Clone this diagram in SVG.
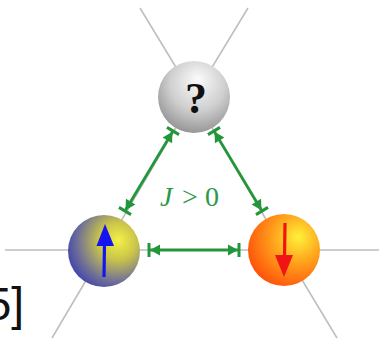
<svg xmlns="http://www.w3.org/2000/svg" width="379" height="341" viewBox="0 0 379 341">
  <style>
    .bond { stroke: #bdbdbd; stroke-width: 1.5; fill: none; }
    .coupling { stroke: #23963c; stroke-width: 2.8; fill: none; marker-start: url(#bar-arrow); marker-end: url(#bar-arrow); }
    .label { font-family: "Liberation Serif", "DejaVu Serif", serif; fill: #2b9a47; }
  </style>
  <defs>
    <radialGradient id="grey-ball" cx="0.55" cy="0.35" r="0.7" fx="0.55" fy="0.25">
      <stop offset="0" stop-color="#fbfbfb"/>
      <stop offset="0.55" stop-color="#cfcfcf"/>
      <stop offset="1" stop-color="#8e8e8e"/>
    </radialGradient>
    <radialGradient id="up-ball" cx="0.68" cy="0.38" r="0.75" fx="0.7" fy="0.35">
      <stop offset="0" stop-color="#f4f245"/>
      <stop offset="0.35" stop-color="#c9c44a"/>
      <stop offset="0.75" stop-color="#6d6d99"/>
      <stop offset="1" stop-color="#3a3fae"/>
    </radialGradient>
    <radialGradient id="down-ball" cx="0.68" cy="0.35" r="0.75" fx="0.7" fy="0.32">
      <stop offset="0" stop-color="#fff23a"/>
      <stop offset="0.45" stop-color="#ffa41c"/>
      <stop offset="1" stop-color="#ff4d0a"/>
    </radialGradient>
    <!-- arrowhead that stops against a flat bar -->
    <marker id="bar-arrow" viewBox="-2 -8 16 16" markerWidth="16" markerHeight="16" refX="11" refY="0" orient="auto-start-reverse" markerUnits="userSpaceOnUse">
      <path d="M0,-5.5 L10,0 L0,5.5 Z" fill="#23963c"/>
      <rect x="9.5" y="-7" width="3" height="14" fill="#23963c"/>
    </marker>
  </defs>

  <!-- lattice bonds -->
  <g id="bonds">
    <line class="bond" x1="140" y1="8" x2="194" y2="97"/>
    <line class="bond" x1="248" y1="8" x2="194" y2="97"/>
    <line class="bond" x1="5" y1="250" x2="104" y2="250"/>
    <line class="bond" x1="52" y1="338" x2="104" y2="250"/>
    <line class="bond" x1="379" y1="250" x2="284" y2="250"/>
    <line class="bond" x1="337" y1="338" x2="284" y2="250"/>
    <line class="bond" x1="194" y1="97" x2="104" y2="250"/>
    <line class="bond" x1="194" y1="97" x2="284" y2="250"/>
    <line class="bond" x1="104" y1="250" x2="284" y2="250"/>
  </g>

  <!-- antiferromagnetic couplings -->
  <g id="connectors">
    <line class="coupling" x1="173" y1="131" x2="125" y2="211"/>
    <line class="coupling" x1="214" y1="131" x2="262" y2="211"/>
    <line class="coupling" x1="149" y1="250" x2="239" y2="250"/>
  </g>

  <text class="label" y="206" font-size="28"><tspan x="160" font-style="italic">J</tspan><tspan x="182">&gt;</tspan><tspan x="205">0</tspan></text>

  <g id="spin-unknown">
    <circle cx="194" cy="97" r="36" fill="url(#grey-ball)"/>
    <text x="196" y="113" font-family="Liberation Serif, DejaVu Serif, serif" font-weight="bold" font-size="44" text-anchor="middle" fill="#111">?</text>
  </g>

  <g id="spin-up">
    <circle cx="104" cy="251" r="36" fill="url(#up-ball)"/>
    <line x1="104" y1="277" x2="104.5" y2="242" stroke="#1414f0" stroke-width="3.2"/>
    <path d="M96.5,246 L105,224 L114,246 Z" fill="#1414f0"/>
  </g>

  <g id="spin-down">
    <circle cx="284" cy="250" r="36" fill="url(#down-ball)"/>
    <line x1="285" y1="223" x2="284.5" y2="258" stroke="#f01414" stroke-width="3.2"/>
    <path d="M275,255 L284,277 L293,255 Z" fill="#f01414"/>
  </g>

  <text x="24" y="320" font-family="Liberation Sans, Arial, sans-serif" font-size="46" text-anchor="end" fill="#111">5]</text>
</svg>
